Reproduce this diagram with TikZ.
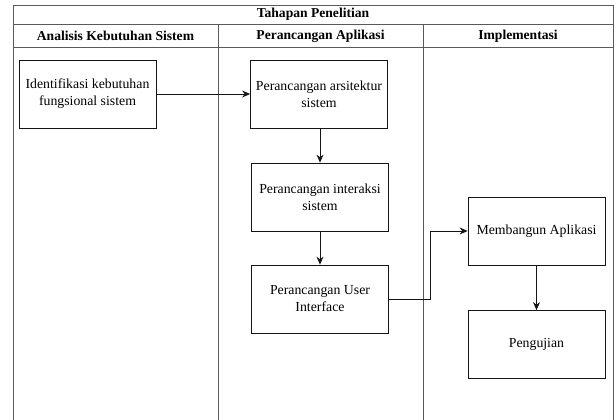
\documentclass[tikz,border=0pt]{standalone}
\usepackage{fontspec}
\setmainfont{Liberation Serif}
\usetikzlibrary{arrows.meta, positioning}
\definecolor{mydark}{RGB}{20,20,20}
\definecolor{mygray}{RGB}{90,90,90}
\tikzset{
  lane/.style={draw=mygray, line width=0.9pt},
  block/.style={rectangle, draw=mydark, fill=white,
    minimum width=137pt, minimum height=68pt,
    align=center, font=\fontsize{13.8}{17}\selectfont,
    inner sep=2pt, line width=0.8pt},
  head/.style={font=\fontsize{13.6}{16}\selectfont\bfseries},
  arrow/.style={-{Stealth[length=8pt,width=7pt]}, line width=0.8pt, color=mydark}
}
\begin{document}
\begin{tikzpicture}[x=1pt, y=-1pt]
  \useasboundingbox (0,0) rectangle (616,420);

  % Swimlane frame
  \draw[lane] (13,420) -- (13,5) -- (613,5) -- (613,420);
  \draw[lane] (13,24) -- (613,24);
  \draw[lane] (13,47) -- (613,47);
  \draw[lane] (218,24) -- (218,420);
  \draw[lane] (423,24) -- (423,420);

  % Headers
  \node[head] (title) at (313,14.5) {Tahapan Penelitian};
  \node[head] (lanea) at (115.5,36) {Analisis Kebutuhan Sistem};
  \node[head] (laneb) at (320.5,36) {Perancangan Aplikasi};
  \node[head] (lanec) at (518,36) {Implementasi};

  % Steps
  \node[block] (ident) at (87.5,94) {Identifikasi kebutuhan\\fungsional sistem};
  \node[block] (arsi) at (319,94) {Perancangan arsitektur\\sistem};
  \node[block] (inter) at (320,197) {Perancangan interaksi\\sistem};
  \node[block] (ui) at (320,299) {Perancangan User\\Interface};
  \node[block] (bangun) at (536.5,231) {Membangun Aplikasi};
  \node[block] (uji) at (536.5,344.5) {Pengujian};

  % Flow
  \draw[arrow] (ident) -- (arsi);
  \draw[arrow] (arsi.south -| inter) -- (inter);
  \draw[arrow] (inter) -- (ui);
  \draw[arrow] (ui.east) -- ++(41,0) |- (bangun.west);
  \draw[arrow] (bangun) -- (uji);
\end{tikzpicture}
\end{document}
